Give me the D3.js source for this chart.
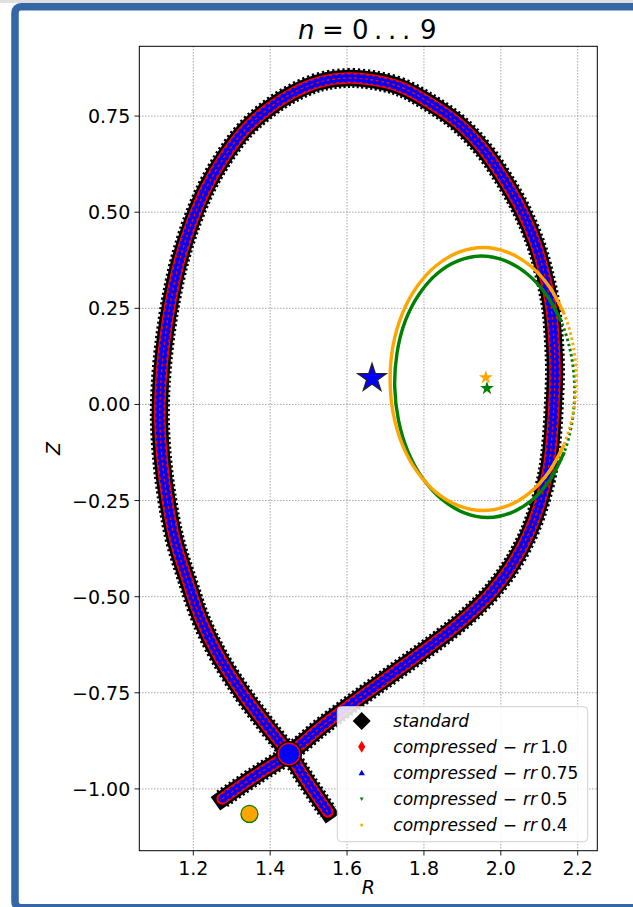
<!DOCTYPE html>
<html>
<head>
<meta charset="utf-8">
<script src="https://cdn.jsdelivr.net/npm/d3@7"></script>
<style>
  body { margin: 0; background: #fff; }
  svg { display: block; }
  text { font-family: "DejaVu Sans", sans-serif; }
</style>
</head>
<body>
<svg id="chart" width="633" height="907"></svg>
<script>
// last closed surface + divertor legs (R, Z)
var boundR = [1.275,1.361,1.449,1.530,1.608,1.686,1.764,1.842,1.915,1.977,2.029,2.071,2.102,2.123,2.133,2.138,
              2.141,2.138,2.131,2.115,2.092,2.055,2.008,1.954,1.889,1.816,1.738,1.665,1.602,1.530,1.459,1.394,
              1.334,1.282,1.236,1.197,1.165,1.142,1.126,1.116,1.113,1.119,1.132,1.152,1.184,1.220,1.267,1.329,
              1.389,1.449,1.498,1.550];
var boundZ = [-1.026,-0.966,-0.909,-0.841,-0.781,-0.724,-0.667,-0.609,-0.549,-0.487,-0.417,-0.339,-0.255,-0.169,-0.083,0.000,
              0.086,0.169,0.250,0.331,0.414,0.503,0.586,0.664,0.732,0.784,0.826,0.844,0.849,0.839,0.810,0.768,
              0.714,0.646,0.568,0.477,0.377,0.273,0.169,0.065,-0.039,-0.143,-0.247,-0.352,-0.456,-0.560,-0.656,-0.753,
              -0.833,-0.909,-0.984,-1.060];

// compressed rr 0.5 (green)
var rr05R = [2.192,2.182,2.157,2.118,2.068,2.011,1.950,1.890,1.834,1.787,1.751,1.730,
             1.724,1.734,1.759,1.798,1.848,1.905,1.966,2.026,2.082,2.129,2.165,2.186];
var rr05Z = [0.046,0.134,0.216,0.286,0.340,0.374,0.386,0.374,0.340,0.286,0.216,0.134,
             0.046,-0.042,-0.124,-0.194,-0.248,-0.282,-0.294,-0.282,-0.248,-0.194,-0.124,-0.042];

// compressed rr 0.4 (orange)
var rr04R = [2.196,2.188,2.164,2.125,2.075,2.017,1.954,1.891,1.833,1.783,1.744,1.720,
             1.712,1.720,1.744,1.783,1.833,1.891,1.954,2.017,2.075,2.125,2.164,2.188];
var rr04Z = [0.066,0.155,0.237,0.308,0.362,0.396,0.408,0.396,0.362,0.308,0.237,0.155,
             0.066,-0.023,-0.105,-0.176,-0.230,-0.264,-0.276,-0.264,-0.230,-0.176,-0.105,-0.023];

// magnetic axes and x-points
var axisR = [1.665, 1.964, 1.961];
var axisZ = [0.068, 0.042, 0.070];
var xptR = [1.449, 1.346];
var xptZ = [-0.909, -1.065];

var xTicks = [1.2, 1.4, 1.6, 1.8, 2.0, 2.2];
var yTicks = [-1.0, -0.75, -0.5, -0.25, 0.0, 0.25, 0.5, 0.75];
var legendNames = ["standard", "1.0", "0.75", "0.5", "0.4"];

var svg = d3.select("#chart");

// notebook cell frame
svg.append("rect").attr("x", 0).attr("y", 0).attr("width", 633).attr("height", 3).attr("fill", "#e0e0e0");
svg.append("rect")
    .attr("x", 15).attr("y", 6.7).attr("width", 700).attr("height", 901)
    .attr("rx", 6)
    .attr("fill", "#fff")
    .attr("stroke", "#3566a5")
    .attr("stroke-width", 7.5);

var margin = {top: 46.3, right: 597.3, bottom: 850.7, left: 139.3};

var x = d3.scaleLinear().domain([1.0595, 2.251]).range([margin.left, margin.right]);
var y = d3.scaleLinear().domain([-1.1607, 0.9315]).range([margin.bottom, margin.top]);

svg.append("clipPath").attr("id", "plotclip")
  .append("rect")
    .attr("x", margin.left).attr("y", margin.top)
    .attr("width", margin.right - margin.left)
    .attr("height", margin.bottom - margin.top);

// grid
var grid = svg.append("g").attr("stroke", "#777").attr("stroke-width", 0.9).attr("stroke-dasharray", "1.1,1.9");
xTicks.forEach(function(t){
  grid.append("line").attr("x1", x(t)).attr("x2", x(t)).attr("y1", margin.top).attr("y2", margin.bottom);
});
yTicks.forEach(function(t){
  grid.append("line").attr("y1", y(t)).attr("y2", y(t)).attr("x1", margin.left).attr("x2", margin.right);
});

var plot = svg.append("g").attr("clip-path", "url(#plotclip)");

var bound = boundR.map(function(r, i){ return [r, boundZ[i]]; });
var line = d3.line()
    .x(function(d){ return x(d[0]); })
    .y(function(d){ return y(d[1]); })
    .curve(d3.curveCatmullRom);

// standard (black diamonds)
plot.append("path").attr("d", line(bound)).attr("fill", "none")
    .attr("stroke", "#000").attr("stroke-width", 16.5).attr("stroke-linejoin", "round").attr("stroke-linecap", "square");
plot.append("path").attr("d", line(bound)).attr("fill", "none")
    .attr("stroke", "#000").attr("stroke-width", 20).attr("stroke-dasharray", "2.2,2.6");
// rr 1.0 (red thin diamonds)
plot.append("path").attr("d", line(bound)).attr("fill", "none")
    .attr("stroke", "#ff0000").attr("stroke-width", 11.5).attr("stroke-linejoin", "round").attr("stroke-linecap", "round");
// rr 0.75 (blue triangles)
plot.append("path").attr("d", line(bound)).attr("fill", "none")
    .attr("stroke", "#0000ff").attr("stroke-width", 7).attr("stroke-linejoin", "round").attr("stroke-linecap", "round");
plot.append("path").attr("d", line(bound)).attr("fill", "none")
    .attr("stroke", "#0000ff").attr("stroke-width", 9).attr("stroke-dasharray", "3,3");
plot.append("path").attr("d", line(bound)).attr("fill", "none")
    .attr("stroke", "#ff0000").attr("stroke-width", 1.4).attr("stroke-dasharray", "3,2.5");

// compressed ellipses: solid on the left, dotted on the outboard side
function drawRing(R, Z, color){
  var pts = R.map(function(r, i){ return [r, Z[i]]; });
  var n = pts.length;
  var solid = pts.slice(2, n - 1);
  var dotted = pts.slice(n - 3).concat(pts.slice(0, 4));
  plot.append("path").attr("d", line(solid)).attr("fill", "none")
      .attr("stroke", color).attr("stroke-width", 3.4);
  plot.append("path").attr("d", line(dotted)).attr("fill", "none")
      .attr("stroke", color).attr("stroke-width", 3).attr("stroke-dasharray", "2.5,2.8");
}
drawRing(rr05R, rr05Z, "#008000");
drawRing(rr04R, rr04Z, "#ffa500");

// axes (stars)
var star = d3.symbol().type(d3.symbolStar);
plot.append("path").attr("d", star.size(250)())
    .attr("transform", "translate(" + x(axisR[0]) + "," + y(axisZ[0]) + ")")
    .attr("fill", "#0000ff").attr("stroke", "#222").attr("stroke-width", 1.3);
plot.append("path").attr("d", star.size(60)())
    .attr("transform", "translate(" + x(axisR[1]) + "," + y(axisZ[1]) + ")")
    .attr("fill", "#008000");
plot.append("path").attr("d", star.size(60)())
    .attr("transform", "translate(" + x(axisR[2]) + "," + y(axisZ[2]) + ")")
    .attr("fill", "#ffa500");

// x-points
plot.append("circle").attr("cx", x(xptR[0])).attr("cy", y(xptZ[0])).attr("r", 13).attr("fill", "#000");
plot.append("circle").attr("cx", x(xptR[0])).attr("cy", y(xptZ[0])).attr("r", 10.8)
    .attr("fill", "#0000ff").attr("stroke", "#ff0000").attr("stroke-width", 1.5);
plot.append("circle").attr("cx", x(xptR[1])).attr("cy", y(xptZ[1])).attr("r", 8.5)
    .attr("fill", "#ffa500").attr("stroke", "#008000").attr("stroke-width", 1.3);

// axes frame and ticks
svg.append("rect")
    .attr("x", margin.left).attr("y", margin.top)
    .attr("width", margin.right - margin.left).attr("height", margin.bottom - margin.top)
    .attr("fill", "none").attr("stroke", "#000").attr("stroke-width", 1);

var xt = svg.append("g");
xTicks.forEach(function(t){
  xt.append("line").attr("x1", x(t)).attr("x2", x(t)).attr("y1", margin.bottom).attr("y2", margin.bottom + 4.8)
      .attr("stroke", "#000").attr("stroke-width", 0.9);
  xt.append("text").attr("x", x(t)).attr("y", 874.5).attr("text-anchor", "middle")
      .attr("font-size", 19).text(d3.format(".1f")(t));
});
var yt = svg.append("g");
yTicks.forEach(function(t){
  yt.append("line").attr("x1", margin.left - 4.8).attr("x2", margin.left).attr("y1", y(t)).attr("y2", y(t))
      .attr("stroke", "#000").attr("stroke-width", 0.9);
  yt.append("text").attr("x", 130.3).attr("y", y(t) + 7).attr("text-anchor", "end")
      .attr("font-size", 19).text(d3.format(".2f")(t));
});

svg.append("text").attr("x", (margin.left + margin.right) / 2).attr("y", 894)
    .attr("text-anchor", "middle").attr("font-size", 19).attr("font-style", "italic").text("R");
svg.append("text").attr("transform", "translate(60,448.5) rotate(-90)")
    .attr("text-anchor", "middle").attr("font-size", 19).attr("font-style", "italic").text("Z");

// title, laid out like mathtext "n = 0\ldots9"
var title = svg.append("text").attr("y", 39).attr("font-size", 26);
title.append("tspan").attr("x", 298).attr("font-style", "italic").text("n");
title.append("tspan").attr("x", 322).text("=");
title.append("tspan").attr("x", 352).text("0");
title.append("tspan").attr("x", 374).text(".");
title.append("tspan").attr("x", 388).text(".");
title.append("tspan").attr("x", 402).text(".");
title.append("tspan").attr("x", 420).text("9");

// legend
var lg = svg.append("g");
lg.append("rect").attr("x", 337.3).attr("y", 706.7).attr("width", 250.4).attr("height", 135)
    .attr("rx", 4).attr("fill", "#fff").attr("fill-opacity", 0.85).attr("stroke", "#d0d0d0").attr("stroke-width", 1);

var rowY = [721, 746.7, 772.7, 799, 825];
var mx = 361.7;
lg.append("path").attr("d", "M0,-9L9,0L0,9L-9,0Z").attr("transform", "translate(" + mx + "," + rowY[0] + ")").attr("fill", "#000");
lg.append("path").attr("d", "M0,-6L3.6,0L0,6L-3.6,0Z").attr("transform", "translate(" + mx + "," + rowY[1] + ")").attr("fill", "#ff0000");
lg.append("path").attr("d", "M0,-3L3.2,2.5L-3.2,2.5Z").attr("transform", "translate(" + mx + "," + rowY[2] + ")").attr("fill", "#0000ff");
lg.append("path").attr("d", "M0,2L2,-1.6L-2,-1.6Z").attr("transform", "translate(" + mx + "," + rowY[3] + ")").attr("fill", "#008000");
lg.append("rect").attr("x", mx - 1.3).attr("y", rowY[4] - 1.3).attr("width", 2.6).attr("height", 2.6).attr("fill", "#ffa500");

legendNames.forEach(function(name, i){
  var t = lg.append("text").attr("x", 393.3).attr("y", rowY[i] + 6).attr("font-size", 17);
  if (i === 0) {
    t.append("tspan").attr("font-style", "italic").text("standard");
  } else {
    t.append("tspan").attr("font-style", "italic").text("compressed");
    t.append("tspan").attr("dx", 6).text("\u2212");
    t.append("tspan").attr("dx", 6).attr("font-style", "italic").text("rr");
    t.append("tspan").attr("dx", 3.5).text(name);
  }
});
</script>
</body>
</html>
